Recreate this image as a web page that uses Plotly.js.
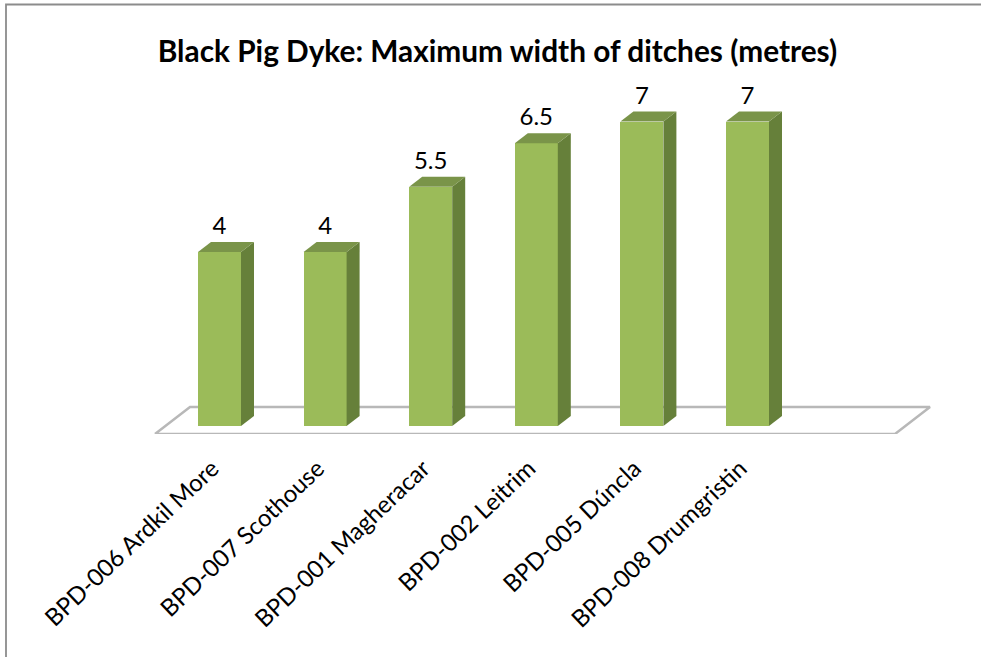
<!DOCTYPE html>
<html><head><meta charset="utf-8">
<script src="https://cdn.plot.ly/plotly-3.0.1.min.js"></script>
<style>html,body{margin:0;padding:0;background:#fff}</style></head>
<body><div id="chart" style="width:981px;height:657px"></div>
<script>
const categories = ["BPD-006 Ardkil More","BPD-007 Scothouse","BPD-001 Magheracar","BPD-002 Leitrim","BPD-005 Dúncla","BPD-008 Drumgristin"];
const widths = [4,4,5.5,6.5,7,7];
const valueLabels = ["4","4","5.5","6.5","7","7"];
const idx = categories.map((_,i)=>i);

const pxX = 105.6, pxY = 43.5;
const barW = 43/pxX;
const depthX = 13/pxX, depthY = 10/pxY;
const L = 100, T = 50, PW = 860, PH = 384;
const x0 = (L-219.5)/pxX, x1 = x0 + PW/pxX;
const y0 = (426-(T+PH))/pxY, y1 = y0 + PH/pxY;

const fX = (155-219.5)/pxX, fW = 740/pxX, fDX = 35/pxX, fDY = 27/pxY, fY = (426-434)/pxY;
const traces = [];
traces.push({type:'scatter',mode:'lines',x:[fX,fX+fW,fX+fW+fDX,fX+fDX,fX],y:[fY,fY,fY+fDY,fY+fDY,fY],
  line:{color:'#B8B8B8',width:2.5},fill:'toself',fillcolor:'#fff',hoverinfo:'skip',showlegend:false});
traces.push({type:'bar',x:idx,y:widths,width:barW,xaxis:'x2',yaxis:'y2',marker:{color:'#9BBB59',line:{width:0}},showlegend:false,hoverinfo:'skip'});
idx.forEach(i=>{
  const r = i+barW/2, l = i-barW/2, v = widths[i];
  traces.push({type:'scatter',mode:'lines',xaxis:'x2',yaxis:'y2',x:[r,r+depthX,r+depthX,r,r],y:[0,depthY,v+depthY,v,0],
    line:{width:0},fill:'toself',fillcolor:'#66803A',hoverinfo:'skip',showlegend:false});
  traces.push({type:'scatter',mode:'lines',xaxis:'x2',yaxis:'y2',x:[l,r,r+depthX,l+depthX,l],y:[v,v,v+depthY,v+depthY,v],
    line:{width:0},fill:'toself',fillcolor:'#7A9449',hoverinfo:'skip',showlegend:false});
});
traces.push({type:'scatter',mode:'text',xaxis:'x2',yaxis:'y2',x:idx,y:widths.map(v=>v+0.55),text:valueLabels,textposition:'middle center',
  textfont:{family:'Lato, Carlito, sans-serif',size:24,color:'#000'},showlegend:false,hoverinfo:'skip'});

const border = {type:'path',xref:'paper',yref:'paper',
  path:`M ${(6-L)/PW} ${(T+PH-657)/PH} L ${(6-L)/PW} ${(T+PH-4.5)/PH} L ${(981-L)/PW} ${(T+PH-4.5)/PH}`,
  line:{color:'#8C8C8C',width:1.8}};

Plotly.newPlot('chart',traces,{
  width:981,height:657,paper_bgcolor:'#fff',plot_bgcolor:'rgba(0,0,0,0)',
  margin:{l:L,t:T,r:981-L-PW,b:657-T-PH,pad:0},
  title:{text:'<b>Black Pig Dyke: Maximum width of ditches (metres)</b>',
    font:{family:'Lato, Carlito, sans-serif',size:29.8,color:'#000'},x:497.5/981,xanchor:'center',y:1-52/657,yanchor:'middle'},
  xaxis:{range:[x0,x1],tickmode:'array',tickvals:idx.map(i=>i-0.07),ticktext:categories,tickangle:-43.5,showgrid:false,zeroline:false,showline:false,
    ticks:'outside',ticklen:10,tickcolor:'rgba(0,0,0,0)',tickfont:{family:'Lato, Carlito, sans-serif',size:24,color:'#000'}},
  yaxis:{range:[y0,y1],visible:false,showgrid:false,zeroline:false},
  xaxis2:{range:[x0,x1],overlaying:'x',visible:false,showgrid:false,zeroline:false},
  yaxis2:{range:[y0,y1],overlaying:'y',visible:false,showgrid:false,zeroline:false},
  shapes:[border],bargap:0,showlegend:false
},{displayModeBar:false,staticPlot:true});
</script></body></html>
